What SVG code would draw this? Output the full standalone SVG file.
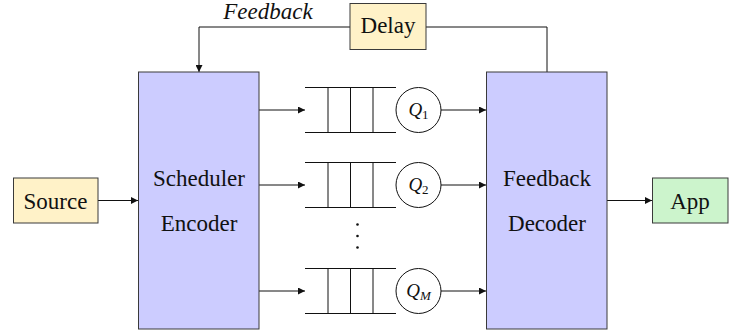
<svg xmlns="http://www.w3.org/2000/svg" width="751" height="335" viewBox="0 0 751 335">
  <style>
    .box { stroke: #3a3a3a; stroke-width: 1; }
    .blue { fill: #ccccff; }
    .cream { fill: #fff2c8; }
    .green { fill: #ccf4cc; }
    text { font-family: 'Liberation Serif', 'Times New Roman', Times, serif; fill: #111; }
    .lbl { font-size: 23px; text-anchor: middle; }
    .ital { font-style: italic; }
    .wire { fill: none; stroke: #111; stroke-width: 1; }
    .q { fill: none; stroke: #111; stroke-width: 1; }
  </style>
  <defs>
    <marker id="arr" viewBox="0 0 10 10" refX="10" refY="5" markerWidth="7" markerHeight="7" markerUnits="userSpaceOnUse" orient="auto">
      <path d="M0,0 L10,5 L0,10 z" fill="#111"/>
    </marker>
    <g id="queue">
      <path class="q" d="M305,-22.5 H396 M305,22.5 H396 M328,-22.5 V22.5 M350.5,-22.5 V22.5 M373,-22.5 V22.5"/>
      <circle class="q" cx="418.5" cy="0" r="22.5" fill="#fff"/>
    </g>
  </defs>

  <rect width="751" height="335" fill="#fff"/>

  <g id="connectors">
    <!-- feedback loop through the delay -->
    <path class="wire" d="M350,27 H199 V72" marker-end="url(#arr)"/>
    <path class="wire" d="M426,27 H547 V72"/>
    <!-- source into scheduler -->
    <path class="wire" d="M98,200.5 H138" marker-end="url(#arr)"/>
    <!-- scheduler to queues -->
    <path class="wire" d="M259,110 H305" marker-end="url(#arr)"/>
    <path class="wire" d="M259,185 H305" marker-end="url(#arr)"/>
    <path class="wire" d="M259,291 H305" marker-end="url(#arr)"/>
    <!-- queues to decoder -->
    <path class="wire" d="M441,110 H486" marker-end="url(#arr)"/>
    <path class="wire" d="M441,185 H486" marker-end="url(#arr)"/>
    <path class="wire" d="M441,291 H486" marker-end="url(#arr)"/>
    <!-- decoder to app -->
    <path class="wire" d="M607,200.5 H652" marker-end="url(#arr)"/>
    <text class="lbl ital" x="268" y="19">Feedback</text>
  </g>

  <g id="delay">
    <rect class="box cream" x="350" y="3.5" width="76" height="46"/>
    <text class="lbl" x="388" y="33">Delay</text>
  </g>

  <g id="source">
    <rect class="box cream" x="13.5" y="178" width="84.5" height="45"/>
    <text class="lbl" x="55.5" y="209">Source</text>
  </g>

  <g id="scheduler">
    <rect class="box blue" x="138.5" y="72" width="120.5" height="257"/>
    <text class="lbl" x="199" y="186">Scheduler</text>
    <text class="lbl" x="199" y="231">Encoder</text>
  </g>

  <g id="queue1">
    <use href="#queue" y="110"/>
    <text x="418.5" y="116" text-anchor="middle"><tspan font-style="italic" font-size="19">Q</tspan><tspan font-size="13" dy="3">1</tspan></text>
  </g>

  <g id="queue2">
    <use href="#queue" y="185"/>
    <text x="418.5" y="191" text-anchor="middle"><tspan font-style="italic" font-size="19">Q</tspan><tspan font-size="13" dy="3">2</tspan></text>
  </g>

  <g id="ellipsis">
    <circle cx="357.5" cy="224.5" r="1.3" fill="#111"/>
    <circle cx="357.5" cy="236" r="1.3" fill="#111"/>
    <circle cx="357.5" cy="247.5" r="1.3" fill="#111"/>
  </g>

  <g id="queueM">
    <use href="#queue" y="291"/>
    <text x="418.5" y="297" text-anchor="middle"><tspan font-style="italic" font-size="19">Q</tspan><tspan font-style="italic" font-size="13" dy="3">M</tspan></text>
  </g>

  <g id="decoder">
    <rect class="box blue" x="486.5" y="72" width="120.5" height="257"/>
    <text class="lbl" x="547" y="186">Feedback</text>
    <text class="lbl" x="547" y="231">Decoder</text>
  </g>

  <g id="app">
    <rect class="box green" x="652.5" y="178" width="75.5" height="45"/>
    <text class="lbl" x="690" y="209">App</text>
  </g>
</svg>
